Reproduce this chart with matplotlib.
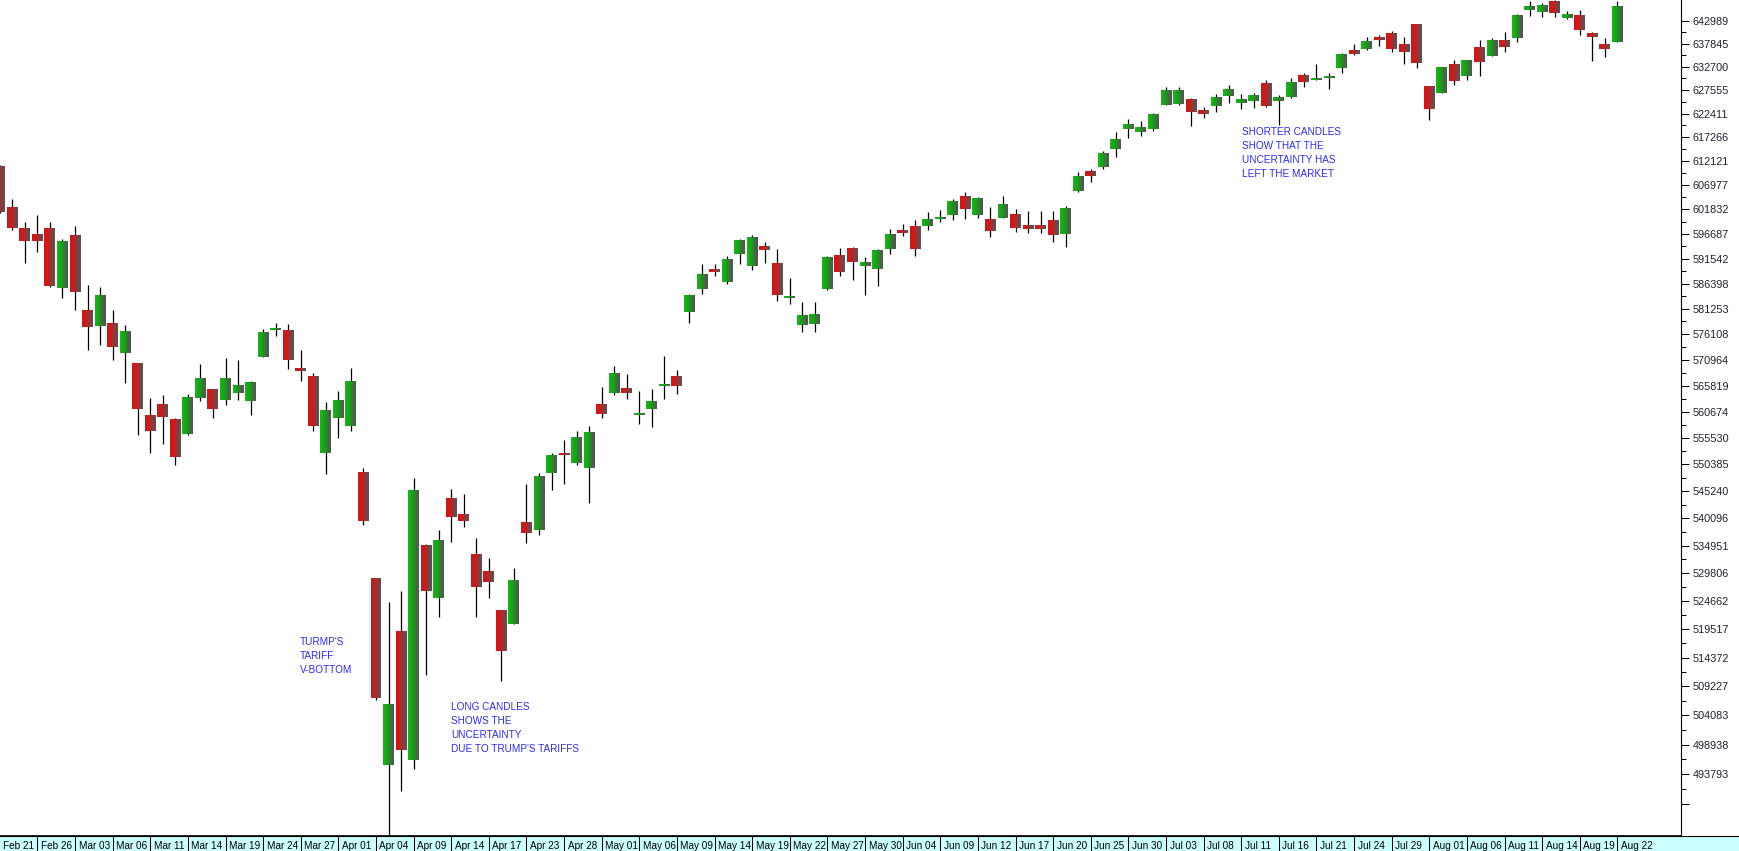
import numpy as np
import matplotlib
matplotlib.use("Agg")
import matplotlib.pyplot as plt
from matplotlib.ticker import FixedLocator, FixedFormatter, NullFormatter

plt.rcParams["font.family"] = ["Liberation Sans", "DejaVu Sans"]

# daily candles, one per trading slot (Feb 21 .. Aug 22)
opens = [611100, 602400, 597900, 596700, 597900, 585400, 596500, 581000, 577800, 578400,
         572400, 570300, 560000, 562200, 559200, 556200, 563400, 565100, 563000, 564400,
         562800, 571600, 577000, 576900, 569300, 567700, 552700, 559500, 557900, 548900,
         528900, 495300, 519200, 496300, 535100, 525300, 544000, 541000, 533400, 530200,
         523000, 520500, 539400, 537900, 548800, 552600, 550700, 549800, 562200, 564400,
         565300, 560100, 561200, 565800, 567700, 580500, 585200, 589400, 586800, 592600,
         590100, 594200, 590700, 583500, 578000, 578100, 585200, 592300, 593800, 590100,
         589500, 593600, 597500, 598400, 598400, 599900, 600700, 604700, 600700, 599800,
         600100, 600900, 598600, 598500, 599600, 596700, 605700, 610000, 610900, 614700,
         619000, 618400, 619000, 624300, 624400, 625600, 623200, 624100, 626200, 624700,
         625100, 629100, 625100, 626000, 630900, 629800, 630100, 632400, 636400, 636600,
         639300, 640200, 637800, 642200, 628400, 626900, 633300, 630700, 637100, 635100,
         638600, 639100, 645400, 644900, 647400, 643600, 644300, 640200, 637800, 638200]
highs = [611300, 604100, 599100, 600700, 599100, 595600, 598400, 586100, 585700, 581000,
         578000, 570300, 563400, 564000, 559400, 564200, 570100, 565200, 571300, 570900,
         566800, 577100, 578400, 578200, 572900, 568300, 562600, 564700, 569300, 549700,
         529000, 524500, 526500, 547800, 535200, 537900, 545700, 544700, 536400, 532600,
         523100, 530800, 546600, 548800, 552600, 555100, 556900, 557900, 565500, 569800,
         568100, 564700, 565100, 571700, 568900, 584300, 590400, 590400, 592100, 595600,
         596500, 595000, 593600, 587600, 582600, 582700, 592100, 593800, 594000, 591900,
         593500, 597700, 598800, 599600, 601300, 601700, 604100, 605500, 604400, 602400,
         604700, 601900, 601500, 601500, 601500, 602600, 609800, 610400, 614300, 618400,
         621200, 620800, 622500, 628200, 628200, 625800, 623800, 626700, 628700, 626700,
         626900, 629800, 626500, 630200, 631300, 633300, 631300, 635700, 637800, 639300,
         639800, 640700, 639300, 642300, 628500, 632700, 634200, 634300, 638600, 639100,
         640400, 644400, 647500, 647000, 647600, 645200, 645400, 640400, 639100, 647400]
lows = [601100, 597500, 590700, 593000, 585600, 583500, 580900, 572900, 574000, 570900,
        566400, 556100, 552700, 554400, 550300, 556100, 562800, 559500, 562000, 563000,
        560100, 571500, 575800, 569200, 566800, 556900, 548600, 555600, 556900, 538900,
        506800, 480000, 490900, 494700, 511300, 521800, 535700, 538500, 521800, 525300,
        510100, 520400, 535500, 537000, 545400, 546700, 550300, 543100, 559500, 564000,
        563200, 558300, 557700, 563200, 564200, 578400, 584300, 588000, 586400, 590500,
        589300, 590700, 582900, 582300, 576600, 576500, 585100, 588000, 587200, 584100,
        586000, 592600, 596300, 592000, 597500, 599200, 599600, 599900, 600100, 596100,
        600000, 597100, 596900, 596900, 595000, 594000, 605500, 607700, 610400, 613000,
        617100, 617500, 618600, 624200, 624200, 619700, 621400, 622700, 624700, 623400,
        623600, 623800, 619900, 625800, 628200, 629700, 627800, 631300, 635400, 636400,
        637300, 636000, 633300, 632400, 621000, 626800, 628700, 629800, 630700, 635000,
        636000, 638200, 644100, 643800, 643900, 643400, 639800, 634000, 634900, 638100]
closes = [601200, 598000, 595300, 595300, 586000, 595300, 584700, 577600, 584100, 573600,
          576700, 561200, 556900, 559700, 551900, 563600, 567300, 561200, 567300, 565900,
          566500, 576500, 577300, 571000, 568800, 557900, 561000, 563000, 566700, 539500,
          507100, 506100, 498000, 545500, 526600, 536000, 540400, 539500, 527300, 528100,
          515600, 528600, 537400, 548200, 552200, 552300, 555700, 556700, 560300, 568300,
          564400, 560400, 562800, 566100, 565800, 584100, 588400, 588700, 591500, 595400,
          596100, 593400, 584100, 583900, 580000, 580100, 591900, 588700, 590900, 590900,
          593400, 596700, 596800, 593600, 599800, 600300, 603600, 601900, 604300, 597300,
          603000, 597900, 597700, 597700, 596500, 602100, 608900, 608900, 613900, 616900,
          620100, 619500, 622300, 627600, 627500, 622700, 622300, 626000, 627800, 625600,
          626500, 624100, 626000, 629300, 629300, 630200, 630700, 635500, 635500, 638400,
          638600, 636600, 636000, 633500, 623400, 632600, 629500, 634200, 633800, 638600,
          637100, 644300, 646300, 646500, 644700, 644500, 640900, 639300, 636600, 646300]

date_labels = ["Feb 21", "Feb 26", "Mar 03", "Mar 06", "Mar 11", "Mar 14", "Mar 19", "Mar 24",
               "Mar 27", "Apr 01", "Apr 04", "Apr 09", "Apr 14", "Apr 17", "Apr 23", "Apr 28",
               "May 01", "May 06", "May 09", "May 14", "May 19", "May 22", "May 27", "May 30",
               "Jun 04", "Jun 09", "Jun 12", "Jun 17", "Jun 20", "Jun 25", "Jun 30", "Jul 03",
               "Jul 08", "Jul 11", "Jul 16", "Jul 21", "Jul 24", "Jul 29", "Aug 01", "Aug 06",
               "Aug 11", "Aug 14", "Aug 19", "Aug 22"]
price_labels = ["642989", "637845", "632700", "627555", "622411", "617266", "612121", "606977",
                "601832", "596687", "591542", "586398", "581253", "576108", "570964", "565819",
                "560674", "555530", "550385", "545240", "540096", "534951", "529806", "524662",
                "519517", "514372", "509227", "504083", "498938", "493793"]
extra_tick = 488649  # unlabelled bottom tick

notes = [
    (["TURMP'S", "TARIFF", "V-BOTTOM"], 23.94, 516600),
    (["LONG CANDLES", "SHOWS THE", "UNCERTAINTY", "DUE TO TRUMP'S TARIFFS"], 36.0, 505000),
    (["SHORTER CANDLES", "SHOW THAT THE", "UNCERTAINTY HAS", "LEFT THE MARKET"], 99.04, 617800),
]

W, H = 1740, 851
STEP = 12.54      # px between candles
X0 = -0.2         # px of the first candle centre
AX_W = 1680.7     # px, plot right edge (price axis)
BAR_H = 15        # px, date strip
NOTE_COLOR = "#2b2bf0"


def main():
    fig = plt.figure(figsize=(W / 100, H / 100), dpi=100, facecolor="white")
    ax = fig.add_axes([0, BAR_H / H, AX_W / W, 1 - BAR_H / H])
    ax.set_yscale("log")
    ax.set_ylim(483200, 647670)
    ax.set_xlim(-X0 / STEP, (AX_W - X0) / STEP)

    o, h, l, c = (np.array(a, dtype=float) for a in (opens, highs, lows, closes))
    idx = np.arange(len(o))
    up = c >= o

    ax.vlines(idx, l, h, color="black", lw=0.9, zorder=1)

    # bodies: horizontal gradient colour -> grey, built from thin strips
    bw = 10.7 / STEP
    n = 11
    sw = bw / n
    offs = (np.arange(n) + 0.5) / n - 0.5
    grey = np.array([0.33, 0.33, 0.33])
    red = np.array([0.97, 0.02, 0.02])
    green = np.array([0.0, 0.78, 0.0])
    xs, bots, hts, cols = [], [], [], []
    for i in idx:
        lo, hi = min(o[i], c[i]), max(o[i], c[i])
        base = green if up[i] else red
        for j, f in enumerate(offs):
            t = j / (n - 1)
            xs.append(i + f * bw)
            bots.append(lo)
            hts.append(hi - lo)
            cols.append(base * (1 - t) + grey * t)
    ax.bar(xs, hts, bottom=bots, width=sw * 1.3, color=cols, linewidth=0, zorder=2)

    # price axis on the right
    tick_vals = [float(s) for s in price_labels] + [extra_tick]
    minor_vals = [(a + b) / 2 for a, b in zip(tick_vals[:-1], tick_vals[1:])]
    ax.yaxis.tick_right()
    ax.yaxis.set_major_locator(FixedLocator(tick_vals))
    ax.yaxis.set_major_formatter(FixedFormatter(price_labels + [""]))
    ax.yaxis.set_minor_locator(FixedLocator(minor_vals))
    ax.yaxis.set_minor_formatter(NullFormatter())
    ax.tick_params(axis="y", which="major", length=5.5, width=0.75, pad=3,
                   labelsize=7.8, labelcolor="#202030")
    ax.tick_params(axis="y", which="minor", length=3.4, width=0.75)
    ax.set_xticks([])
    for s in ["top", "left"]:
        ax.spines[s].set_visible(False)
    ax.spines["right"].set_linewidth(0.8)
    ax.spines["bottom"].set_linewidth(1.2)

    for lines, x, y in notes:
        for i, line in enumerate(lines):
            ax.annotate(line, (x, y), xytext=(0, -10.08 * i), textcoords="offset points",
                        color=NOTE_COLOR, fontsize=7.2, ha="left", va="baseline")

    # date strip
    bar = fig.add_axes([0, 0, 1, BAR_H / H])
    bar.set_facecolor("#ccffff")
    bar.set_xlim(-X0 / STEP, (W - X0) / STEP)
    bar.set_ylim(0, 1)
    bar.set_xticks([])
    bar.set_yticks([])
    for s in ["left", "right", "bottom"]:
        bar.spines[s].set_visible(False)
    bar.spines["top"].set_linewidth(0.8)
    for k, lab in enumerate(date_labels):
        xk = 3 * k
        if k:
            bar.axvline(xk, color="black", lw=0.75)
        bar.text(xk + 3.5 / STEP, 2 / BAR_H, lab, fontsize=7.2, ha="left", va="baseline",
                 color="black")

    fig.savefig("out.png", dpi=100, facecolor="white")


if __name__ == "__main__":
    main()
